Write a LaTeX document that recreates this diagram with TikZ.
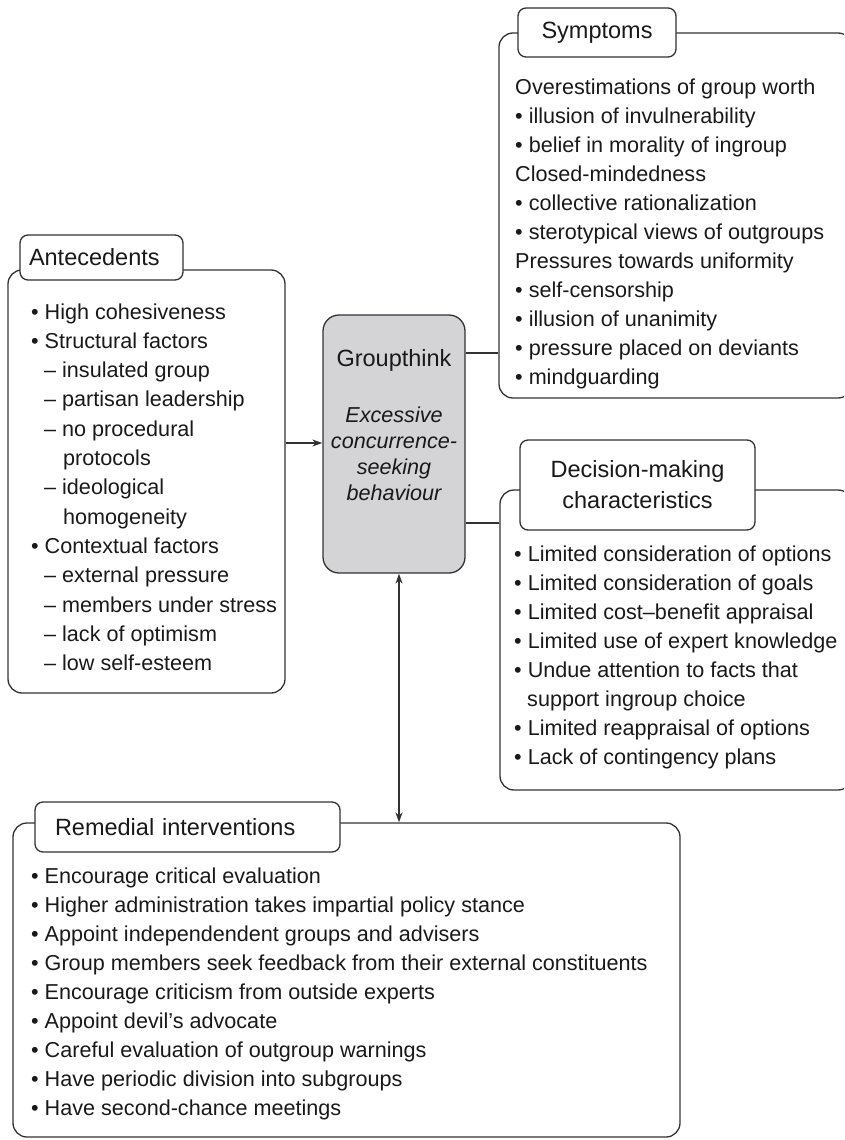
\documentclass[tikz,border=0pt]{standalone}
\usepackage{fontspec}
\setmainfont{Liberation Sans}
\usetikzlibrary{arrows.meta}
\definecolor{linec}{RGB}{50,50,50}
\definecolor{txtc}{RGB}{25,25,25}
\definecolor{gtfill}{RGB}{212,212,214}
\begin{document}
\begin{tikzpicture}[x=1pt,y=-1pt,
  >={Stealth[length=10pt,width=7pt]},
  every node/.style={text=txtc, font=\fontsize{21.6}{29}\selectfont},
  big/.style={font=\fontsize{23.5}{31}\selectfont},
  box/.style={draw=linec, line width=1.3pt, rounded corners=14pt, inner sep=0pt},
  lab/.style={draw=linec, fill=white, line width=1.3pt, rounded corners=8pt, inner sep=0pt, big},
  ln/.style={anchor=base west, inner sep=0pt},
  conn/.style={draw=linec, line width=1.3pt}]
\path[use as bounding box, clip] (0,0) rectangle (844,1140);

% main boxes
\node[box, minimum width=353pt, minimum height=365pt] (sym) at (675.5,215.5) {};
\node[box, minimum width=352pt, minimum height=300pt] (dec) at (676,640) {};
\node[box, minimum width=277pt, minimum height=423pt] (ant) at (146.5,481.5) {};
\node[box, minimum width=667pt, minimum height=314pt] (rem) at (346.5,980) {};
\node[box, fill=gtfill, rounded corners=16pt, minimum width=142pt, minimum height=258pt] (gt) at (394,444) {};

% labels
\node[lab, minimum width=158pt, minimum height=49pt] (symlab) at (597,32.5) {Symptoms};
\node[lab, minimum height=45pt, text width=145pt, inner xsep=9pt, align=left] (antlab) at (101.5,257.5) {Antecedents};
\node[lab, minimum width=235pt, minimum height=90pt, align=center] (declab) at (637.5,485) {Decision-making\\characteristics};
\node[lab, minimum height=50pt, text width=265pt, inner xsep=20pt, align=left] (remlab) at (187.5,827) {Remedial interventions};

% groupthink text
\node[anchor=base, inner sep=0pt, big] (gttitle) at (394,366) {Groupthink};
\foreach \t [count=\i from 0] in {Excessive, concurrence-, seeking, behaviour}
  \node[anchor=base, inner sep=0pt, font=\fontsize{21.6}{29}\selectfont\itshape] (gtt\i) at (394,{422+26*\i}) {\t};

% symptoms
\foreach \t [count=\i from 0] in {Overestimations of group worth, • illusion of invulnerability, • belief in morality of ingroup, Closed-mindedness, • collective rationalization, • sterotypical views of outgroups, Pressures towards uniformity, • self-censorship, • illusion of unanimity, • pressure placed on deviants, • mindguarding}
  \node[ln] (symt\i) at (515,{94+29*\i}) {\t};

% antecedents
\foreach \x/\t [count=\i from 0] in {31/• High cohesiveness, 31/• Structural factors, 44/– insulated group, 44/– partisan leadership, 44/– no procedural, 63/protocols, 44/– ideological, 63/homogeneity, 31/• Contextual factors, 44/– external pressure, 44/– members under stress, 44/– lack of optimism, 44/– low self-esteem}
  \node[ln] (antt\i) at ({\x},{319+29.3*\i}) {\t};

% decision-making
\foreach \x/\t [count=\i from 0] in {514/• Limited consideration of options, 514/• Limited consideration of goals, 514/• Limited cost–benefit appraisal, 514/• Limited use of expert knowledge, 514/• Undue attention to facts that, 527/support ingroup choice, 514/• Limited reappraisal of options, 514/• Lack of contingency plans}
  \node[ln] (dect\i) at ({\x},{561+29*\i}) {\t};

% remedial
\foreach \t [count=\i from 0] in {• Encourage critical evaluation, • Higher administration takes impartial policy stance, • Appoint independendent groups and advisers, • Group members seek feedback from their external constituents, • Encourage criticism from outside experts, • Appoint devil’s advocate, • Careful evaluation of outgroup warnings, • Have periodic division into subgroups, • Have second-chance meetings}
  \node[ln] (remt\i) at (31,{883+29.1*\i}) {\t};

% connectors
\draw[conn, ->] (ant.east |- 0,443) -- (gt.west |- 0,443);
\draw[conn] (gt.east |- 0,353) -- (sym.west |- 0,353);
\draw[conn] (gt.east |- 0,523) -- (dec.west |- 0,523);
\draw[conn, <->] (gt.south -| 399,0) -- (rem.north -| 399,0);
\end{tikzpicture}
\end{document}
